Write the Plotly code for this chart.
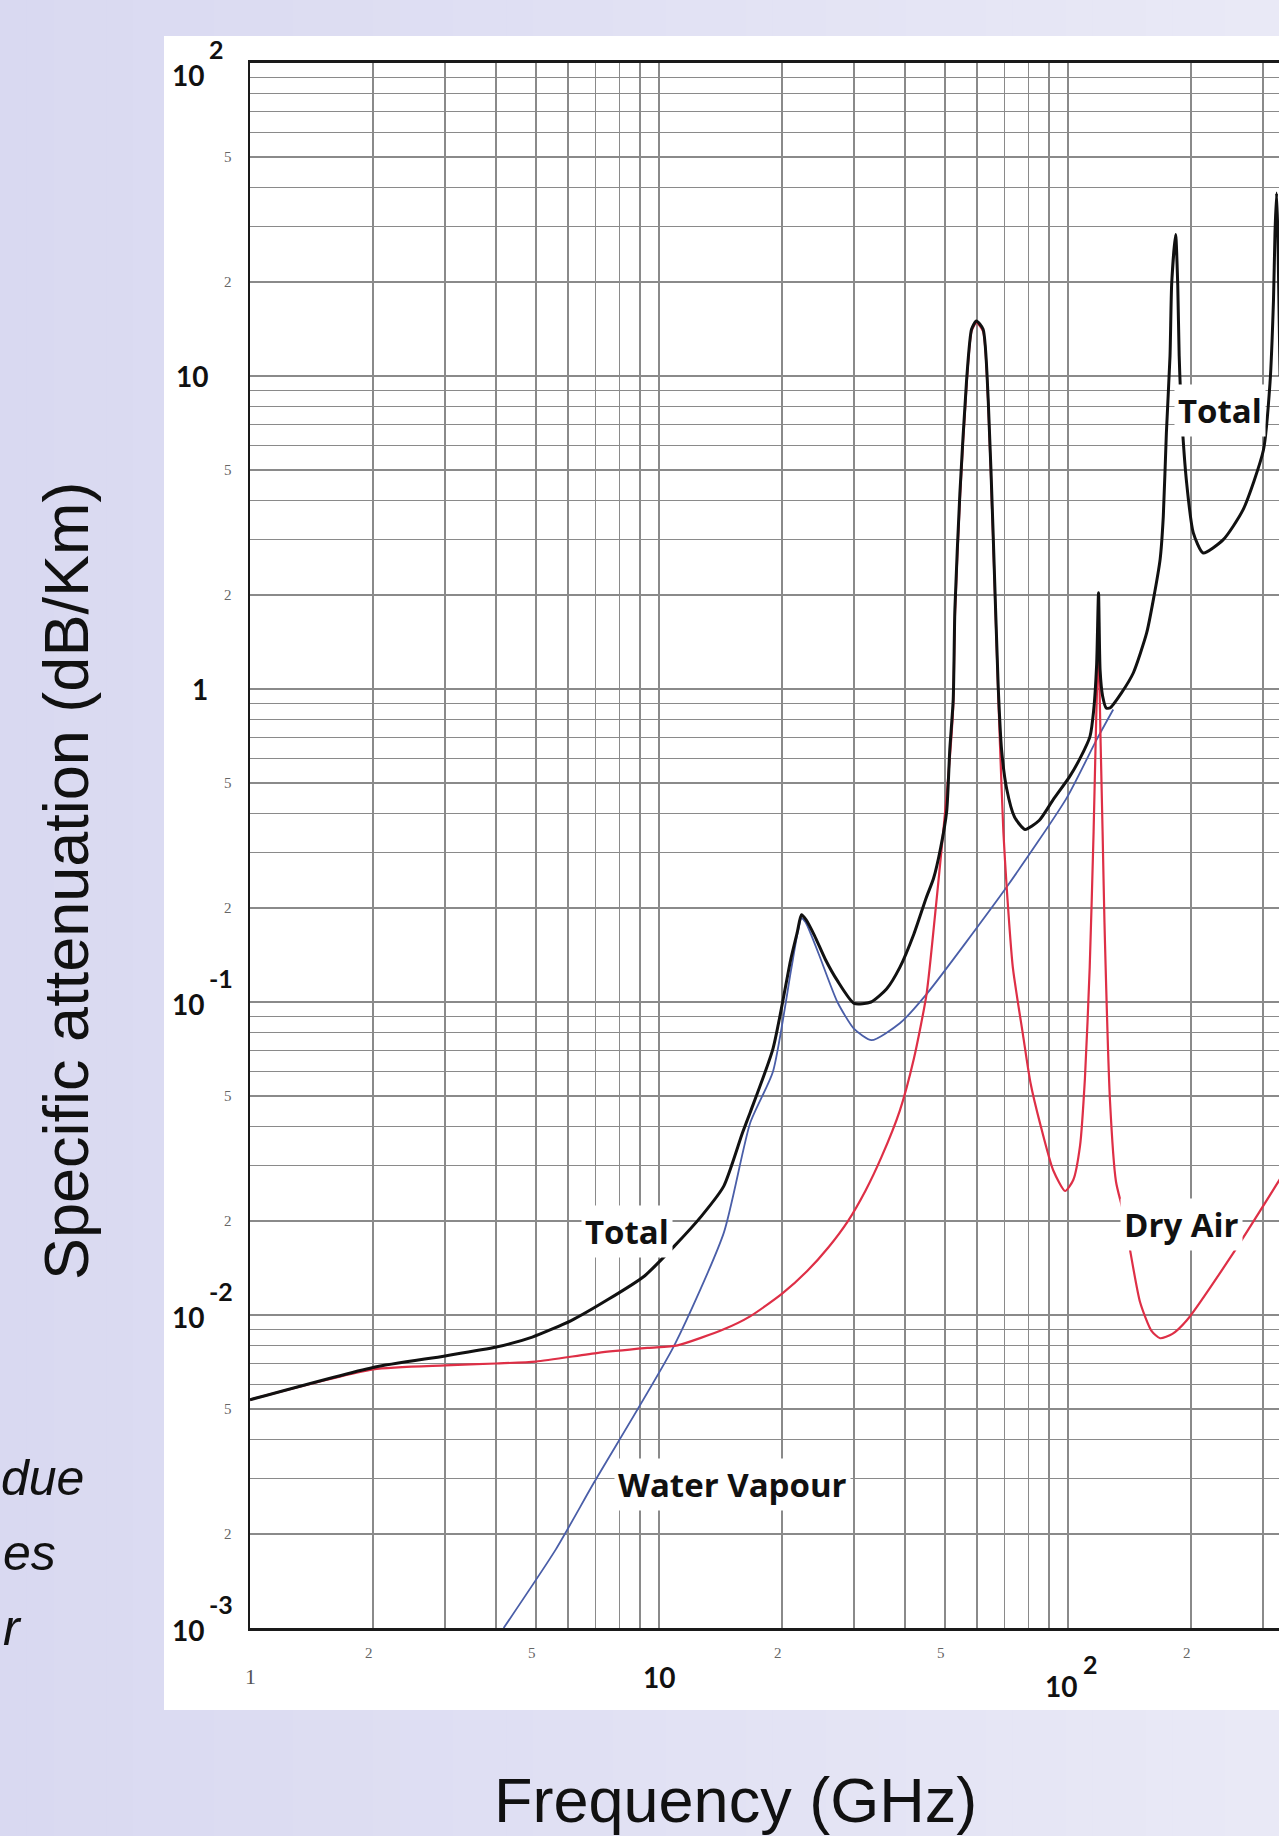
import math
import plotly.graph_objects as go

# ---------------- data ----------------
TOTAL_FREQ = [1.0, 2.0, 3.0, 4.0, 4.9, 6.1, 7.5, 9.2, 10.9, 12.7, 14.4, 16.0, 16.7, 19.0, 21.0,
              21.8, 22.3, 22.9, 24.0, 25.5, 27.3, 30.0, 33.0, 36.0, 38.8, 42.0, 45.0, 46.9,
              48.8, 50.5, 51.4, 52.4, 52.9, 54.4, 56.5, 58.1, 59.7, 62.0, 63.8, 65.6, 67.5,
              68.8, 70.8, 74.0, 78.5, 85.0, 92.0, 101.0, 107.0, 113.2, 115.5, 117.5, 118.75,
              119.8, 121.5, 124.0, 126.7, 135.0, 144.5, 155.7, 161.7, 168.0, 171.0, 174.0,
              177.6, 179.3, 183.3, 185.5, 187.0, 189.7, 195.0, 202.4, 214.0, 239.7, 268.0,
              300.5, 311.8, 318.0, 320.7, 323.6, 326.0, 330.0]
TOTAL_ATT = [0.00536, 0.0068, 0.0074, 0.0079, 0.0085, 0.0096, 0.0112, 0.0133, 0.0166, 0.0207,
             0.0258, 0.0382, 0.0443, 0.071, 0.137, 0.168, 0.19, 0.183, 0.163, 0.137, 0.117,
             0.099, 0.1, 0.11, 0.129, 0.165, 0.215, 0.248, 0.31, 0.406, 0.64, 0.925, 1.8, 4.2,
             9.7, 14.1, 15.0, 14.1, 8.46, 3.16, 1.02, 0.64, 0.48, 0.39, 0.356, 0.38, 0.443,
             0.526, 0.6, 0.706, 0.85, 1.2, 2.03, 1.15, 0.95, 0.87, 0.87, 0.97, 1.127, 1.51,
             1.93, 2.6, 3.56, 6.59, 11.6, 19.8, 28.3, 19.5, 11.6, 7.43, 4.56, 3.16, 2.72, 3.0,
             3.74, 5.8, 9.5, 17.5, 28.7, 38.4, 28.0, 10.0]

DRY_FREQ = [1.0, 2.0, 3.0, 4.0, 5.0, 7.1, 9.4, 11.1, 14.4, 16.7, 20.0, 23.0, 26.0, 29.0, 32.0,
            35.0, 38.8, 42.0, 45.1, 47.5, 49.5, 51.4, 52.4, 52.9, 54.4, 56.5, 58.1, 59.7, 62.0,
            63.8, 65.6, 67.5, 68.2, 69.5, 70.8, 73.3, 77.6, 81.0, 85.5, 92.0, 98.4, 103.0,
            107.0, 110.0, 113.0, 115.5, 117.2, 118.75, 120.2, 121.5, 122.8, 126.7, 131.0,
            136.6, 150.0, 160.0, 168.0, 180.0, 195.0, 253.0, 330.0]
DRY_ATT = [0.00536, 0.0067, 0.0069, 0.0070, 0.0071, 0.00757, 0.00785, 0.0080, 0.009, 0.0099,
           0.0117, 0.0138, 0.0165, 0.020, 0.025, 0.032, 0.045, 0.066, 0.106, 0.2, 0.345, 0.6,
           0.88, 1.7, 4.0, 9.4, 13.9, 14.8, 13.9, 8.2, 3.0, 0.97, 0.66, 0.35, 0.233, 0.129,
           0.0787, 0.055, 0.0408, 0.029, 0.0249, 0.027, 0.0347, 0.057, 0.129, 0.35, 0.8, 1.34,
           0.66, 0.35, 0.179, 0.048, 0.0267, 0.0212, 0.011, 0.0089, 0.00843, 0.0087, 0.0096,
           0.0157, 0.0272]

WV_FREQ = [4.17, 5.59, 6.93, 10.9, 14.4, 16.7, 19.0, 21.0, 21.8, 22.3, 22.8, 23.5, 24.7, 27.3,
           30.0, 33.1, 38.8, 45.1, 70.8, 99.3, 117.5, 129.0]
WV_ATT = [0.001, 0.00178, 0.00291, 0.0080, 0.0183, 0.041, 0.060, 0.125, 0.165, 0.185, 0.18,
          0.165, 0.14, 0.1, 0.082, 0.0755, 0.0855, 0.106, 0.233, 0.449, 0.689, 0.86]

Y_MAJOR_VALUES = [100, 10, 1, 0.1, 0.01, 0.001]
Y_MAJOR_LABELS = ["10<sup>2</sup>", "10", "1", "10<sup>-1</sup>", "10<sup>-2</sup>", "10<sup>-3</sup>"]
Y_MINOR_VALUES = [50, 20, 5, 2, 0.5, 0.2, 0.05, 0.02, 0.005, 0.002]
Y_MINOR_LABELS = ["5", "2", "5", "2", "5", "2", "5", "2", "5", "2"]
X_MAJOR_VALUES = [10, 100]
X_MAJOR_LABELS = ["10", "10<sup>2</sup>"]
X_MINOR_VALUES = [2, 5, 20, 50, 200]
X_MINOR_LABELS = ["2", "5", "2", "5", "2"]
X_ORIGIN_VALUE = [1]
X_ORIGIN_LABEL = ["1"]

CURVE_LABELS = ["Total", "Total", "Dry Air", "Water Vapour"]

X_TITLE = "Frequency (GHz)"
Y_TITLE = "Specific attenuation (dB/Km)"
SIDE_TEXT = ["due", "es", "r"]

# ---------------- layout geometry (pixels) ----------------
W, H = 1279, 1836
L, T, R, B = 250, 63, 1279, 1628
DEC_X = 409.0
DEC_Y = (B - T) / 5.0
X_MAX = (R - L) / DEC_X


def px(X):
    return (X - L) / (R - L)


def py(Y):
    return (B - Y) / (B - T)


def lx(X):
    return (X - L) / DEC_X


def ly(Y):
    return 2 - (Y - T) / DEC_Y


def split_sup(label):
    if "<sup>" in label:
        base, rest = label.split("<sup>")
        return base, rest.replace("</sup>", "")
    return label, None


grid_x = [m * 10 ** e for e in range(0, 3) for m in range(1, 10)]
grid_y = [m * 10 ** e for e in range(-3, 2) for m in range(1, 10)] + [100]

fig = go.Figure()

fig.add_trace(go.Scatter(x=WV_FREQ, y=WV_ATT, mode="lines", name="Water Vapour",
                         line=dict(color="#4a5ea8", width=1.8, shape="spline", smoothing=0.6),
                         hoverinfo="skip"))
fig.add_trace(go.Scatter(x=DRY_FREQ, y=DRY_ATT, mode="lines", name="Dry Air",
                         line=dict(color="#de2f46", width=2.2, shape="spline", smoothing=0.6),
                         hoverinfo="skip"))
fig.add_trace(go.Scatter(x=TOTAL_FREQ, y=TOTAL_ATT, mode="lines", name="Total",
                         line=dict(color="#111111", width=3, shape="spline", smoothing=0.6),
                         hoverinfo="skip"))

# background gradient + white panel
shapes = []
N = 48
c0 = (217, 217, 241)
c1 = (233, 233, 246)
for i in range(N):
    t = i / (N - 1)
    col = "rgb(%d,%d,%d)" % tuple(round(c0[k] + (c1[k] - c0[k]) * t) for k in range(3))
    x0 = W * i / N
    x1 = W * (i + 1) / N + 1
    shapes.append(dict(type="rect", xref="paper", yref="paper", x0=px(x0), x1=px(x1),
                       y0=py(H + 2), y1=py(-2), fillcolor=col, line=dict(width=0), layer="below"))
shapes.append(dict(type="rect", xref="paper", yref="paper", x0=px(164), x1=px(W + 2),
                   y0=py(1710), y1=py(36), fillcolor="white", line=dict(width=0), layer="below"))

ann = []
major_font = dict(family="Lato, Arial", size=28, color="#111111")
exp_font = dict(family="Lato, Arial", size=25, color="#111111")
minor_font = dict(family="Liberation Serif, serif", size=15, color="#666666")

# y major labels
for v, s in zip(Y_MAJOR_VALUES, Y_MAJOR_LABELS):
    base, exp = split_sup(s)
    yl = math.log10(v)
    if exp is not None:
        dy = -12 if v == 100 else -2
        ann.append(dict(xref="paper", yref="y", x=px(206), y=yl, text="<b>%s</b>" % base,
                        xanchor="right", yanchor="middle", showarrow=False, font=major_font,
                        yshift=dy))
        ann.append(dict(xref="paper", yref="y", x=px(207), y=yl, text="<b>%s</b>" % exp,
                        xanchor="left", yanchor="middle", showarrow=False, font=exp_font,
                        yshift=dy + 26))
    else:
        ann.append(dict(xref="paper", yref="y", x=px(210), y=yl, text="<b>%s</b>" % base,
                        xanchor="right", yanchor="middle", showarrow=False, font=major_font))
for v, s in zip(Y_MINOR_VALUES, Y_MINOR_LABELS):
    ann.append(dict(xref="paper", yref="y", x=px(228), y=math.log10(v), text=s,
                    xanchor="center", yanchor="middle", showarrow=False, font=minor_font))

# x labels
for v, s in zip(X_MAJOR_VALUES, X_MAJOR_LABELS):
    base, exp = split_sup(s)
    xl = math.log10(v)
    if exp is not None:
        ann.append(dict(xref="x", yref="paper", x=xl, y=py(1686), text="<b>%s</b>" % base,
                        xanchor="right", yanchor="middle", showarrow=False, font=major_font,
                        xshift=11))
        ann.append(dict(xref="x", yref="paper", x=xl, y=py(1664), text="<b>%s</b>" % exp,
                        xanchor="left", yanchor="middle", showarrow=False, font=exp_font,
                        xshift=13))
    else:
        ann.append(dict(xref="x", yref="paper", x=xl, y=py(1677), text="<b>%s</b>" % base,
                        xanchor="center", yanchor="middle", showarrow=False, font=major_font))
for v, s in zip(X_MINOR_VALUES, X_MINOR_LABELS):
    ann.append(dict(xref="x", yref="paper", x=math.log10(v), y=py(1653), text=s,
                    xanchor="center", yanchor="middle", showarrow=False, font=minor_font,
                    xshift=-4))
for v, s in zip(X_ORIGIN_VALUE, X_ORIGIN_LABEL):
    ann.append(dict(xref="x", yref="paper", x=math.log10(v), y=py(1676), text=s,
                    xanchor="center", yanchor="middle", showarrow=False,
                    font=dict(family="Liberation Serif, serif", size=22, color="#555555")))

# curve labels
label_px = [(1220, 410), (627, 1231), (1181, 1224), (732, 1484)]
for s, (X, Y) in zip(CURVE_LABELS, label_px):
    ann.append(dict(xref="x", yref="y", x=lx(X), y=ly(Y), text="<b>%s</b>" % s,
                    showarrow=False, xanchor="center", yanchor="middle",
                    font=dict(family="Open Sans, Arial", size=33, color="#111111"),
                    bgcolor="white", borderpad=3))

# axis titles
title_font = dict(family="Liberation Sans, Arial", size=63, color="#111111")
ann.append(dict(xref="paper", yref="paper", x=px(735), y=py(1800), text=X_TITLE,
                showarrow=False, xanchor="center", yanchor="middle", font=title_font))
ann.append(dict(xref="paper", yref="paper", x=px(66), y=py(881), text=Y_TITLE,
                showarrow=False, xanchor="center", yanchor="middle", textangle=-90,
                font=title_font))

# side text (fragments at the left edge of the slide)
side_font = dict(family="Liberation Sans, Arial", size=50, color="#111111")
side_pos = [(86, 1478), (58, 1553), (24, 1628)]
for s, (X, Y) in zip(SIDE_TEXT, side_pos):
    ann.append(dict(xref="paper", yref="paper", x=px(X), y=py(Y), text="<i>%s</i>" % s,
                    showarrow=False, xanchor="right", yanchor="middle", font=side_font))

axis_common = dict(type="log", showticklabels=False, ticks="", showgrid=True,
                   gridcolor="#8a8a8a", gridwidth=1.6, zeroline=False, showline=True,
                   linecolor="#1a1a1a", fixedrange=True)
fig.update_xaxes(range=[0, X_MAX], tickvals=grid_x, linewidth=3, mirror=True, **axis_common)
fig.update_yaxes(range=[-3, 2], tickvals=grid_y, linewidth=2.5, mirror=False, **axis_common)

fig.update_layout(width=W, height=H, margin=dict(l=L, r=W - R, t=T, b=H - B, pad=0),
                  paper_bgcolor="rgb(225,225,243)", plot_bgcolor="white",
                  showlegend=False, shapes=shapes, annotations=ann)

fig.write_html("out.html", config={"displayModeBar": False, "staticPlot": True},
               post_script="document.body.style.margin='0';document.body.style.overflow='hidden';")
